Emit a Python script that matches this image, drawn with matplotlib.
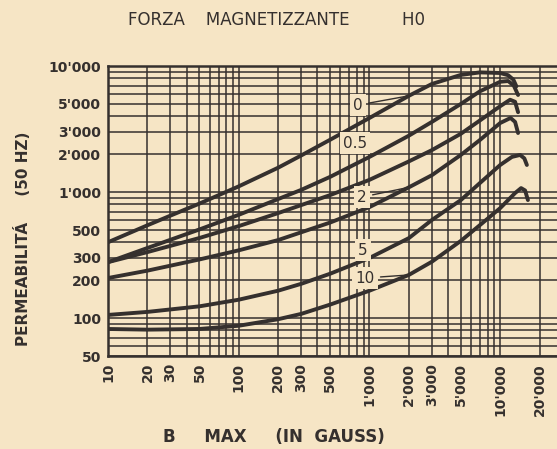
import matplotlib.pyplot as plt
from matplotlib.ticker import FixedLocator, LogLocator, NullFormatter

PAPER = "#f6e5c5"
INK = "#35302e"

# B max (gauss) vs permeability (50 Hz), one curve per magnetising force H0
b_h0 = [10, 20, 30, 50, 100, 200, 300, 500, 1000, 2000, 3000, 5000, 7000, 10000, 11500, 12600, 13300]
mu_h0 = [400, 545, 650, 810, 1110, 1560, 1950, 2600, 3870, 5800, 7200, 8500, 8900, 8800, 8450, 7800, 6900]

b_h05 = [10, 20, 50, 100, 200, 300, 500, 1000, 2000, 3000, 5000, 7000, 10000, 11500, 12700, 13700]
mu_h05 = [278, 360, 505, 660, 880, 1040, 1320, 1900, 2800, 3600, 5000, 6300, 7500, 7600, 7000, 5890]

b_h1 = [10, 20, 50, 100, 200, 500, 1000, 2000, 3000, 5000, 7000, 10000, 11900, 13000, 13700]
mu_h1 = [278, 334, 432, 537, 681, 946, 1250, 1750, 2150, 2900, 3700, 4800, 5400, 5200, 4300]

b_h2 = [10, 20, 50, 100, 200, 500, 1000, 2000, 3000, 5000, 7000, 10000, 12000, 13000, 13700]
mu_h2 = [208, 238, 292, 345, 416, 573, 760, 1090, 1360, 1970, 2590, 3530, 3870, 3600, 2940]

b_h5 = [10, 20, 50, 100, 200, 300, 500, 1000, 2000, 3000, 5000, 7000, 10000, 12300, 14200, 15300, 16000]
mu_h5 = [106, 112, 124, 140, 165, 187, 225, 300, 431, 600, 864, 1180, 1640, 1900, 1970, 1850, 1640]

b_h10 = [10, 20, 50, 100, 200, 300, 500, 1000, 2000, 3000, 5000, 7000, 10000, 13000, 14450, 15500, 16300]
mu_h10 = [82, 81, 82, 87, 98, 108, 128, 165, 220, 280, 410, 547, 746, 982, 1075, 1030, 864]

x_ticks = [10, 20, 30, 50, 100, 200, 300, 500, 1000, 2000, 3000, 5000, 10000, 20000]
x_labels = ["10", "20", "30", "50", "100", "200", "300", "500",
            "1'000", "2'000", "3'000", "5'000", "10'000", "20'000"]
y_ticks = [50, 100, 200, 300, 500, 1000, 2000, 3000, 5000, 10000]
y_labels = ["50", "100", "200", "300", "500", "1'000", "2'000", "3'000", "5'000", "10'000"]

fig = plt.figure(figsize=(5.57, 4.49), dpi=100)
fig.patch.set_facecolor(PAPER)
ax = fig.add_axes([0.194, 0.207, 0.806, 0.646])
ax.set_facecolor(PAPER)
ax.set_xscale("log")
ax.set_yscale("log")
ax.set_xlim(10, 27200)
ax.set_ylim(50, 10000)

# graph-paper grid on every decade subdivision
ax.xaxis.set_major_locator(FixedLocator(x_ticks))
ax.yaxis.set_major_locator(FixedLocator(y_ticks))
ax.xaxis.set_minor_locator(LogLocator(base=10, subs=range(1, 10), numticks=20))
ax.yaxis.set_minor_locator(LogLocator(base=10, subs=range(1, 10), numticks=20))
ax.xaxis.set_minor_formatter(NullFormatter())
ax.yaxis.set_minor_formatter(NullFormatter())
ax.grid(True, which="both", color=INK, linewidth=1.1)
ax.set_axisbelow(True)

ax.set_xticklabels(x_labels, rotation=90, fontsize=10, fontweight="bold", color=INK)
ax.set_yticklabels(y_labels, fontsize=10, fontweight="bold", color=INK)
ax.tick_params(which="both", length=0, pad=5)

for s in ax.spines.values():
    s.set_color(INK)
    s.set_linewidth(1.8)
ax.spines["right"].set_visible(False)

curves = [(b_h0, mu_h0), (b_h05, mu_h05), (b_h1, mu_h1),
          (b_h2, mu_h2), (b_h5, mu_h5), (b_h10, mu_h10)]
for b, mu in curves:
    ax.plot(b, mu, color=INK, linewidth=2.8, solid_capstyle="round", solid_joinstyle="round")

box = dict(boxstyle="square,pad=0.2", facecolor=PAPER, edgecolor="none")
lead = dict(arrowstyle="-", color=INK, linewidth=1.0, shrinkA=2, shrinkB=0)
ax.annotate("0", xy=(b_h0[9], mu_h0[9]), xytext=(818, 4900), fontsize=11, color=INK,
            ha="center", va="center", bbox=box, arrowprops=lead)
ax.text(777, 2450, "0.5", fontsize=11, color=INK, ha="center", va="center", bbox=box)
ax.annotate("2", xy=(b_h2[7], mu_h2[7]), xytext=(877, 913), fontsize=11, color=INK,
            ha="center", va="center", bbox=box, arrowprops=lead)
ax.text(889, 347, "5", fontsize=11, color=INK, ha="center", va="center", bbox=box)
ax.annotate("10", xy=(b_h10[8], mu_h10[8]), xytext=(925, 208), fontsize=11, color=INK,
            ha="center", va="center", bbox=box, arrowprops=lead)

fig.text(0.496, 0.955, "FORZA    MAGNETIZZANTE          H0", fontsize=12,
         color=INK, ha="center", va="center")
fig.text(0.041, 0.468, "PERMEABILITÁ     (50 HZ)", fontsize=11, fontweight="bold",
         color=INK, rotation=90, ha="center", va="center")
fig.text(0.492, 0.027, "B     MAX     (IN  GAUSS)", fontsize=12, fontweight="bold",
         color=INK, ha="center", va="center")

fig.savefig("out.png", dpi=100, facecolor=PAPER)
